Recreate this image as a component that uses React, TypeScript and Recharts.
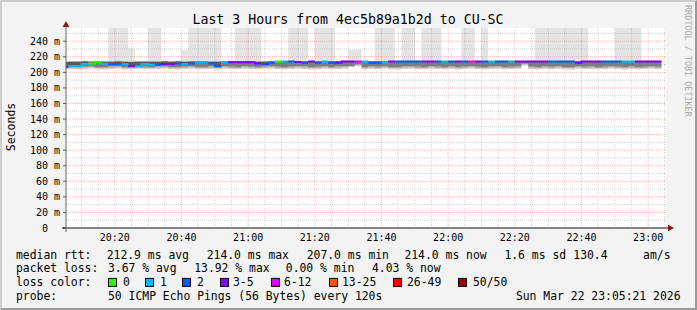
import React from "react";
import {
  ComposedChart,
  Area,
  Line,
  XAxis,
  YAxis,
  CartesianGrid,
  ReferenceDot,
} from "recharts";

// ---------------- data ----------------
const TITLE = "Last 3 Hours from 4ec5b89a1b2d to CU-SC";
const Y_LABEL = "Seconds";
const CREDIT = "RRDTOOL / TOBI OETIKER";

const RANGE_START = "20:05:21";
const RANGE_END = "23:05:21";
const FIRST_STEP = "20:04:00";
const STEP_SECONDS = 120;

const xTickLabels = ["20:20", "20:40", "21:00", "21:20", "21:40", "22:00", "22:20", "22:40", "23:00"];
const yTicks = [0, 20, 40, 60, 80, 100, 120, 140, 160, 180, 200, 220, 240];
const Y_MAX = 257;

// median rtt per 2-minute step (ms)
const medianMs = [
  207.0, 208.2, 208.2, 210.6, 211.4, 213.1, 211.0, 210.6, 210.6, 210.6,
  208.0, 208.0, 210.6, 209.7, 209.7, 210.6, 210.6, 211.4, 210.6, 211.4,
  213.1, 213.1, 211.4, 208.0, 213.1, 213.1, 213.1, 213.1, 213.1, 211.4,
  210.6, 212.3, 214.0, 214.0, 214.0, 213.3, 212.3, 214.0, 212.3, 214.0,
  212.3, 212.3, 214.0, 214.0, 214.0, 214.0, 212.3, 212.3, 212.3, 214.0,
  214.0, 214.0, 214.0, 214.0, 214.0, 214.0, 214.0, 214.0, 214.0, 214.0,
  214.0, 214.0, 214.0, 214.0, 214.0, 214.0, 214.0, 214.0, 214.0, 214.0,
  214.0, 214.0, 214.0, 214.0, 214.0, 214.0, 214.0, 212.3, 214.0, 214.0,
  214.0, 214.0, 214.0, 214.0, 214.0, 214.0, 214.0, 214.0, 214.0, 214.0,
];

// lost pings (of 50) per step
const lossCount = [
  3, 1, 1, 1, 0, 0, 1, 2, 2, 1,
  3, 1, 1, 1, 2, 3, 4, 2, 1, 2,
  1, 1, 2, 2, 1, 3, 4, 3, 3, 3,
  2, 2, 0, 1, 2, 3, 2, 4, 2, 1,
  2, 3, 3, 4, 7, 1, 2, 2, 1, 3,
  2, 2, 2, 2, 3, 4, 2, 1, 2, 3,
  2, 7, 3, 2, 1, 2, 2, 1, 3, 4,
  3, 3, 3, 2, 2, 2, 2, 4, 3, 3,
  3, 2, 2, 2, 1, 1, 3, 4, 3, 3,
];

// smoke: ping distribution per step (ms)
const smokeLowMs = [
  204.3, 204.0, 203.6, 204.2, 204.8, 204.1, 203.8, 204.4, 204.9, 203.7,
  204.0, 204.6, 204.2, 203.9, 204.5, 204.8, 204.0, 203.8, 204.3, 204.7,
  204.1, 203.9, 204.4, 203.8, 204.6, 204.2, 204.0, 204.7, 204.3, 203.9,
  204.5, 204.8, 204.1, 203.7, 204.2, 204.9, 204.4, 203.8, 204.1, 204.6,
  204.0, 204.3, 204.7, 206.5, 207.9, 203.9, 204.5, 204.1, 204.8, 204.0,
  203.8, 204.4, 204.6, 204.1, 203.9, 204.7, 204.2, 204.0, 204.5, 203.8,
  204.3, 204.9, 204.1, 203.7, 204.4, 204.6, 204.0, 204.2, 204.5, 208.9,
  204.3, 203.9, 204.5, 204.1, 204.7, 204.0, 203.8, 204.6, 204.2, 204.4,
  203.9, 204.1, 204.8, 204.3, 203.7, 204.5, 204.0, 204.2, 204.6, 204.1,
];
const smokeP10Ms = [
  205.6, 205.4, 205.1, 205.8, 206.2, 205.5, 205.3, 205.9, 206.3, 205.0,
  205.5, 206.0, 205.7, 205.4, 206.0, 206.1, 205.6, 205.2, 205.8, 206.2,
  205.6, 205.5, 205.9, 205.2, 206.1, 205.7, 205.5, 206.2, 205.8, 205.4,
  206.0, 206.3, 205.6, 205.2, 205.8, 206.4, 205.9, 205.3, 205.7, 206.1,
  205.5, 205.8, 206.2, 207.4, 209.0, 205.4, 206.0, 205.6, 206.3, 205.5,
  205.3, 205.9, 206.1, 205.6, 205.4, 206.2, 205.7, 205.5, 206.0, 205.3,
  205.8, 206.4, 205.6, 205.2, 205.9, 206.1, 205.5, 205.7, 206.0, 210.0,
  205.8, 205.4, 206.0, 205.6, 206.2, 205.5, 205.3, 206.1, 205.7, 205.9,
  205.4, 205.6, 206.3, 205.8, 205.2, 206.0, 205.5, 205.7, 206.1, 205.6,
];
const smokeP25Ms = [
  206.2, 206.8, 206.5, 207.2, 207.6, 207.0, 206.9, 207.4, 207.7, 206.8,
  206.7, 207.1, 207.3, 206.9, 207.5, 207.6, 207.0, 206.8, 207.2, 207.7,
  207.0, 206.9, 207.4, 206.8, 207.6, 207.2, 207.0, 207.8, 207.3, 206.9,
  207.4, 207.8, 207.1, 206.8, 207.3, 207.9, 207.4, 206.9, 207.2, 207.6,
  207.0, 207.4, 207.7, 208.3, 210.2, 206.9, 207.5, 207.1, 207.8, 207.0,
  206.9, 207.4, 207.6, 207.1, 206.9, 207.7, 207.2, 207.0, 207.5, 206.8,
  207.3, 207.9, 207.1, 206.8, 207.4, 207.6, 207.0, 207.2, 207.5, 211.0,
  207.3, 206.9, 207.5, 207.1, 207.7, 207.0, 206.8, 207.6, 207.2, 207.4,
  206.9, 207.1, 207.8, 207.3, 206.8, 207.5, 207.0, 207.2, 207.6, 207.1,
];
const smokeP90Ms = [
  213.2, 213.8, 214.0, 214.2, 214.0, 214.3, 214.1, 213.9, 214.2, 214.0,
  213.6, 213.9, 214.1, 213.8, 214.0, 214.2, 214.0, 214.3, 214.1, 214.2,
  214.3, 214.4, 214.1, 213.8, 214.3, 214.2, 214.4, 214.3, 214.2, 214.1,
  213.9, 214.2, 214.5, 214.4, 214.6, 214.3, 214.2, 214.5, 214.2, 214.6,
  214.3, 214.2, 214.6, 214.5, 214.7, 214.6, 214.3, 214.2, 214.3, 214.6,
  214.5, 214.6, 214.4, 214.7, 214.5, 214.6, 214.4, 214.5, 214.7, 214.5,
  214.6, 214.7, 214.5, 214.6, 214.4, 214.5, 214.7, 214.6, 214.5, 214.6,
  214.5, 214.7, 214.6, 214.4, 214.5, 214.6, 214.7, 214.3, 214.6, 214.5,
  214.6, 214.4, 214.5, 214.7, 214.6, 214.5, 214.4, 214.6, 214.7, 214.5,
];
const smokeMaxMs = [
  213.8, 214.5, 214.7, 214.9, 214.6, 215.0, 214.8, 468.2, 395.7, 512.4,
  230.5, 214.6, 214.8, 433.9, 376.1, 214.9, 214.7, 215.0, 228.3, 452.6,
  389.4, 501.8, 417.3, 366.9, 214.9, 214.8, 478.5, 402.1, 355.6, 441.7,
  214.6, 214.9, 215.1, 215.0, 386.3, 459.2, 372.8, 215.1, 421.5, 398.4,
  463.0, 214.9, 215.2, 229.0, 229.4, 215.2, 214.9, 407.6, 382.3, 455.1,
  215.1, 368.7, 429.9, 215.3, 394.2, 472.6, 351.4, 215.1, 215.3, 215.1,
  418.8, 387.5, 215.1, 446.3, 215.0, 215.1, 215.3, 215.2, 215.1, 215.2,
  215.1, 399.6, 461.3, 378.4, 425.7, 364.2, 491.5, 408.9, 437.2, 215.1,
  215.2, 215.0, 215.1, 383.6, 449.8, 412.7, 369.3, 215.3, 215.1, 215.2,
];

const lossLabels = ["0", "1", "2", "3-5", "6-12", "13-25", "26-49", "50/50"];
const lossUpper = [0, 1, 2, 5, 12, 25, 49, 50];
const lossColors = ["#26ff00", "#00b8ff", "#0059ff", "#7e00ff", "#dd00ff", "#ff5500", "#ff0000", "#a00000"];

const rttStats = ["212.9 ms avg", "214.0 ms max", "207.0 ms min", "214.0 ms now", "1.6 ms sd", "130.4", "am/s"];
const lossStats = ["3.67 % avg", "13.92 % max", "0.00 % min", "4.03 % now"];
const PROBE = "50 ICMP Echo Pings (56 Bytes) every 120s";
const STAMP = "Sun Mar 22 23:05:21 2026";

// ---------------- layout / style ----------------
const W = 697;
const H = 310;
const FONT = '"DejaVu Sans Mono", monospace';
const LEG_FS = 11.4;
const rttX = [106.7, 206.7, 306.7, 404.4, 504.4, 573.3, 643.1];
const lossX = [108, 194.2, 285.8, 372];
const swatchX = [108, 145, 182, 220, 271, 329, 393, 458];
const swatchLabelX = [123, 160, 197, 233, 284, 342, 407, 473];
const rowY = [258.7, 272.3, 285.9, 299.5];

const toSec = (s: string) => {
  const p = s.split(":").map(Number);
  return p[0] * 3600 + p[1] * 60 + (p[2] || 0);
};
const fmtTime = (v: number) => {
  const h = Math.floor(v / 3600);
  const m = Math.floor((v % 3600) / 60);
  return `${String(h).padStart(2, "0")}:${String(m).padStart(2, "0")}`;
};

const t0 = toSec(RANGE_START);
const t1 = toSec(RANGE_END);
const xTicks = xTickLabels.map(toSec);

const bucketOf = (n: number) => lossUpper.findIndex((u) => n <= u);

const rows: any[] = [];
medianMs.forEach((m, i) => {
  const start = toSec(FIRST_STEP) + i * STEP_SECONDS;
  const b = bucketOf(lossCount[i]);
  const vals: any = {
    base: smokeLowMs[i],
    s1: smokeP10Ms[i] - smokeLowMs[i],
    s2: smokeP25Ms[i] - smokeP10Ms[i],
    s3: m - smokeP25Ms[i],
    s4: smokeP90Ms[i] - m,
    s5: smokeMaxMs[i] - smokeP90Ms[i],
  };
  lossColors.forEach((_, c) => {
    vals["med" + c] = c === b ? m : null;
  });
  rows.push({ t: start, ...vals }, { t: start + STEP_SECONDS, ...vals });
});

// grid values
const minorY: number[] = [];
for (let v = 10; v < Y_MAX; v += 20) minorY.push(v);
const majorY = yTicks.filter((v) => v > 0);
const minorX: number[] = [];
{
  const first = Math.ceil(t0 / 300) * 300;
  for (let t = first; t <= t1; t += 300) if (t % 1200 !== 0) minorX.push(t);
}
const majorX = xTicks;

const smokeBands = [
  { key: "s1", fill: "#d0d0d0", op: 1 },
  { key: "s2", fill: "#a9a9a9", op: 1 },
  { key: "s3", fill: "#7d7d7d", op: 1 },
  { key: "s4", fill: "#5a5a5a", op: 1 },
  { key: "s5", fill: "#9a9a9a", op: 0.27 },
];

const UpArrow = (p: any) => (
  <g>
    <line x1={p.cx} y1={p.cy} x2={p.cx} y2={p.cy - 4} stroke="#666" strokeWidth={1} />
    <polygon points={`${p.cx - 3.5},${p.cy - 1} ${p.cx + 3.5},${p.cy - 1} ${p.cx},${p.cy - 7}`} fill="#8b1a1a" />
  </g>
);
const RightArrow = (p: any) => (
  <g>
    <line x1={p.cx} y1={p.cy} x2={p.cx + 3} y2={p.cy} stroke="#111" strokeWidth={1} />
    <polygon points={`${p.cx + 2},${p.cy - 3.5} ${p.cx + 2},${p.cy + 3.5} ${p.cx + 8},${p.cy}`} fill="#8b1a1a" />
  </g>
);
const Corner = (p: any) => (
  <g>
    <line x1={p.cx - 4} y1={p.cy} x2={p.cx} y2={p.cy} stroke="#111" strokeWidth={1} />
    <line x1={p.cx} y1={p.cy} x2={p.cx} y2={p.cy + 4} stroke="#666" strokeWidth={1} />
  </g>
);

export default function App() {
  const tickStyle = { fontSize: 10, fill: "#000", fontFamily: FONT };
  return (
    <div
      style={{
        position: "absolute",
        left: 0,
        top: 0,
        width: W,
        height: H,
        background: "#f3f3f3",
        overflow: "hidden",
        fontFamily: FONT,
      }}
    >
      <ComposedChart width={W} height={H} data={rows} margin={{ top: 28, right: 31, bottom: 52, left: 0 }}>
        <CartesianGrid fill="#ffffff" horizontal={false} vertical={false} />
        <XAxis
          dataKey="t"
          type="number"
          domain={[t0, t1]}
          allowDataOverflow
          ticks={xTicks}
          interval={0}
          tickFormatter={fmtTime}
          tickLine={false}
          tickSize={0}
          tickMargin={6}
          height={30}
          axisLine={{ stroke: "#111" }}
          tick={tickStyle}
        />
        <YAxis
          type="number"
          domain={[0, Y_MAX]}
          allowDataOverflow
          ticks={yTicks}
          interval={0}
          width={66}
          tickSize={3}
          tickMargin={3}
          tickLine={{ stroke: "#555" }}
          axisLine={{ stroke: "#666" }}
          tick={tickStyle}
          tickFormatter={(v: number) => (v === 0 ? "0\u00a0\u00a0" : `${v} m`)}
        />
        <Area
          dataKey="base"
          stackId="smoke"
          type="linear"
          stroke="none"
          fill="none"
          isAnimationActive={false}
        />
        {smokeBands.map((b) => (
          <Area
            key={b.key}
            dataKey={b.key}
            stackId="smoke"
            type="linear"
            stroke="none"
            fill={b.fill}
            fillOpacity={b.op}
            isAnimationActive={false}
          />
        ))}
        <CartesianGrid
          horizontalValues={minorY}
          verticalValues={minorX}
          stroke="#c4c4c4"
          strokeDasharray="1 1"
          strokeOpacity={0.75}
        />
        <CartesianGrid
          horizontalValues={majorY}
          verticalValues={majorX}
          stroke="#f49090"
          strokeDasharray="1 1"
          strokeOpacity={0.6}
        />
        {lossColors.map((c, i) => (
          <Line
            key={c}
            dataKey={"med" + i}
            type="linear"
            stroke={c}
            strokeWidth={2}
            dot={false}
            activeDot={false}
            connectNulls={false}
            isAnimationActive={false}
          />
        ))}
        <ReferenceDot x={t0} y={Y_MAX} ifOverflow="visible" shape={UpArrow} />
        <ReferenceDot x={t1} y={0} ifOverflow="visible" shape={RightArrow} />
        <ReferenceDot x={t0} y={0} ifOverflow="visible" shape={Corner} />
      </ComposedChart>

      <svg
        width={W}
        height={H}
        style={{ position: "absolute", left: 0, top: 0, pointerEvents: "none" }}
        fontFamily={FONT}
      >
        <text x={348} y={24} textAnchor="middle" fontSize={13.25} fill="#000">
          {TITLE}
        </text>
        <text
          transform="translate(10.5,127) rotate(-90)"
          textAnchor="middle"
          dominantBaseline="central"
          fontSize={11.5}
          fill="#000"
        >
          {Y_LABEL}
        </text>
        <text
          transform="translate(687.5,5) rotate(90)"
          textAnchor="start"
          dominantBaseline="central"
          fontSize={8.45}
          fill="#a8a8a8"
        >
          {CREDIT}
        </text>

        <g fontSize={LEG_FS} fill="#000">
          <text x={16} y={rowY[0]}>median rtt:</text>
          {rttStats.map((s, i) => (
            <text key={"r" + i} x={rttX[i]} y={rowY[0]}>
              {s}
            </text>
          ))}
          <text x={16} y={rowY[1]}>packet loss:</text>
          {lossStats.map((s, i) => (
            <text key={"l" + i} x={lossX[i]} y={rowY[1]}>
              {s}
            </text>
          ))}
          <text x={16} y={rowY[2]}>loss color:</text>
          {lossLabels.map((s, i) => (
            <g key={"c" + i}>
              <rect x={swatchX[i] + 0.5} y={rowY[2] - 7.5} width={8} height={8} fill={lossColors[i]} stroke="#000" strokeWidth={1} />
              <text x={swatchLabelX[i]} y={rowY[2]}>
                {s}
              </text>
            </g>
          ))}
          <text x={16} y={rowY[3]}>probe:</text>
          <text x={108} y={rowY[3]}>{PROBE}</text>
          <text x={680.5} y={rowY[3]} textAnchor="end">
            {STAMP}
          </text>
        </g>
      </svg>
      <div
        style={{
          position: "absolute",
          left: 0,
          top: 0,
          width: W,
          height: H,
          boxSizing: "border-box",
          borderTop: "2px solid #cdcdcd",
          borderLeft: "2px solid #cdcdcd",
          borderBottom: "2px solid #9a9a9a",
          borderRight: "2px solid #9a9a9a",
          pointerEvents: "none",
        }}
      />
    </div>
  );
}
